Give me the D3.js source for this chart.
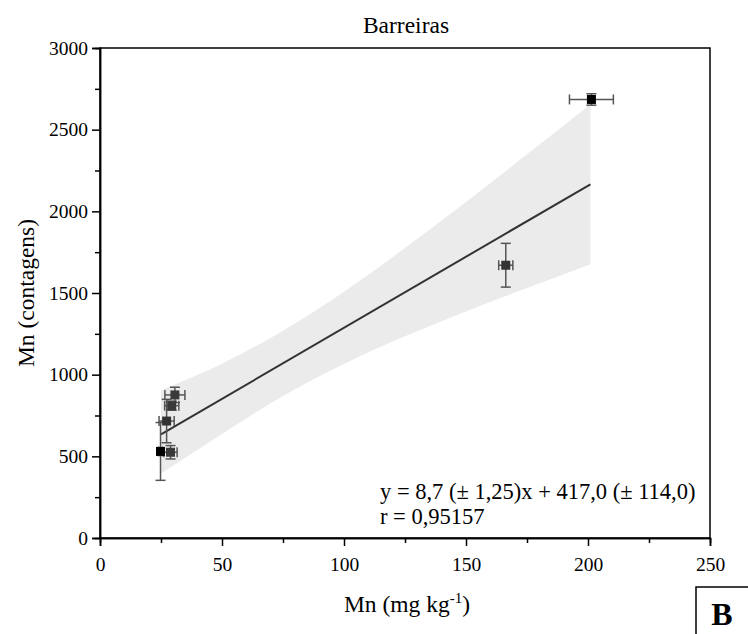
<!DOCTYPE html>
<html><head><meta charset="utf-8">
<script src="https://cdn.jsdelivr.net/npm/d3@7"></script>
<style>body{margin:0;background:#fff}svg{display:block}text{font-family:"Liberation Serif","Times New Roman",serif;fill:#000}</style>
</head><body>
<script>
// ---- data ----
const pointX    = [201.4, 166.3, 30.7, 29.4, 27.3, 24.8, 28.9];
const pointY    = [2685, 1670, 876, 810, 716, 530, 525];
const pointXErr = [9.0, 2.9, 4.1, 2.9, 3.1, 0.8, 2.7];
const pointYErr = [35, 134, 47, 28, 133, 177, 41];
const pointColor= ["#000000", "#333333", "#3a3a3a", "#3a3a3a", "#333333", "#000000", "#3a3a3a"];
const fitSlope = 8.7, fitIntercept = 417.0, fitXRange = [25, 201];
const bandX     = [25, 50, 75, 100, 125, 150, 175, 201];
const bandLower = [395, 637, 870, 1066, 1235, 1387, 1530, 1676];
const bandUpper = [905, 1067, 1269, 1508, 1775, 2057, 2349, 2656];
const xTicks = [0, 50, 100, 150, 200, 250];
const yTicks = [0, 500, 1000, 1500, 2000, 2500, 3000];
const title = "Barreiras";
const eqLines = ["y = 8,7 (\u00B1 1,25)x + 417,0 (\u00B1 114,0)", "r = 0,95157"];

// ---- layout ----
const W = 748, H = 634;
const FONT = '"Liberation Serif", "Times New Roman", serif';
const m = {left: 100, right: 38, top: 48, bottom: 96};
const iw = W - m.left - m.right, ih = H - m.top - m.bottom;
const svg = d3.select("body").append("svg").attr("width", W).attr("height", H);
const g = svg.append("g").attr("transform", `translate(${m.left},${m.top})`);
const x = d3.scaleLinear().domain([0, 250]).range([0, iw]);
const y = d3.scaleLinear().domain([0, 3000]).range([ih, 0]);

// band
const band = bandX.map((v, i) => ({x: v, lo: bandLower[i], hi: bandUpper[i]}));
g.append("path").datum(band)
  .attr("d", d3.area().curve(d3.curveMonotoneX).x(d => x(d.x)).y0(d => y(d.lo)).y1(d => y(d.hi)))
  .attr("fill", "#ebebeb");

// fit line
g.append("line")
  .attr("x1", x(fitXRange[0])).attr("y1", y(fitSlope * fitXRange[0] + fitIntercept))
  .attr("x2", x(fitXRange[1])).attr("y2", y(fitSlope * fitXRange[1] + fitIntercept))
  .attr("stroke", "#333").attr("stroke-width", 2);

// points with error bars
const pts = pointX.map((v, i) => ({x: v, y: pointY[i], ex: pointXErr[i], ey: pointYErr[i], c: pointColor[i]}));
const eb = g.append("g").attr("stroke", "#555").attr("stroke-width", 1.5).attr("fill", "none");
const cap = 5;
pts.forEach(p => {
  const cx = x(p.x), cy = y(p.y);
  const y1 = y(p.y + p.ey), y2 = y(p.y - p.ey);
  const x1 = x(p.x - p.ex), x2 = x(p.x + p.ex);
  eb.append("line").attr("x1", cx).attr("x2", cx).attr("y1", y1).attr("y2", y2);
  eb.append("line").attr("x1", cx - cap).attr("x2", cx + cap).attr("y1", y1).attr("y2", y1);
  eb.append("line").attr("x1", cx - cap).attr("x2", cx + cap).attr("y1", y2).attr("y2", y2);
  eb.append("line").attr("x1", x1).attr("x2", x2).attr("y1", cy).attr("y2", cy);
  eb.append("line").attr("x1", x1).attr("x2", x1).attr("y1", cy - cap).attr("y2", cy + cap);
  eb.append("line").attr("x1", x2).attr("x2", x2).attr("y1", cy - cap).attr("y2", cy + cap);
});
g.selectAll("rect.pt").data(pts).enter().append("rect").attr("class", "pt")
  .attr("x", d => x(d.x) - 4.5).attr("y", d => y(d.y) - 4.5)
  .attr("width", 9).attr("height", 9).attr("fill", d => d.c);

// frame
g.append("rect").attr("width", iw).attr("height", ih).attr("fill", "none")
  .attr("stroke", "#000").attr("stroke-width", 1.5);

// axes
const xMinor = d3.range(25, 250, 50);
const yMinor = d3.range(250, 3000, 500);
g.append("g").attr("transform", `translate(0,${ih})`)
  .call(d3.axisBottom(x).tickValues(xTicks).tickSize(8).tickPadding(11).tickFormat(d3.format("d")));
g.append("g").attr("transform", `translate(0,${ih})`)
  .call(d3.axisBottom(x).tickValues(xMinor).tickSize(5).tickFormat(""));
g.append("g")
  .call(d3.axisLeft(y).tickValues(yTicks).tickSize(8).tickPadding(4).tickFormat(d3.format("d")));
g.append("g").call(d3.axisLeft(y).tickValues(yMinor).tickSize(5).tickFormat(""));
g.selectAll(".domain").attr("stroke", "#000").attr("stroke-width", 1.5);
g.selectAll(".tick line").attr("stroke", "#000").attr("stroke-width", 1.5);
g.selectAll(".tick text").attr("font-family", FONT).style("font-family", FONT)
  .style("font-size", "19.5px").attr("fill", "#000");

// title & labels
svg.append("text").attr("x", m.left + iw / 2 + 1).attr("y", 33).attr("text-anchor", "middle")
  .style("font-family", FONT).style("font-size", "23.5px").text(title);
const xl = svg.append("text").attr("x", m.left + iw / 2 + 2).attr("y", 612).attr("text-anchor", "middle")
  .style("font-family", FONT).style("font-size", "23.5px");
xl.append("tspan").text("Mn (mg kg");
xl.append("tspan").attr("dy", -9).style("font-size", "15px").text("-1");
xl.append("tspan").attr("dy", 9).text(")");
svg.append("text").attr("transform", `translate(34,${m.top + ih / 2}) rotate(-90)`)
  .attr("text-anchor", "middle").style("font-family", FONT).style("font-size", "23.5px").text("Mn (contagens)");

// equation
eqLines.forEach((t, i) => {
  svg.append("text").attr("x", 380).attr("y", 499 + i * 25).style("font-family", FONT)
    .style("font-size", "22.5px").text(t);
});

// panel letter box
svg.append("path").attr("d", "M696,640 V587 H760").attr("fill", "none").attr("stroke", "#000").attr("stroke-width", 1.5);
svg.append("text").attr("x", 722).attr("y", 625).attr("text-anchor", "middle")
  .style("font-family", FONT).style("font-size", "32px").style("font-weight", "bold").text("B");
</script>
</body></html>
